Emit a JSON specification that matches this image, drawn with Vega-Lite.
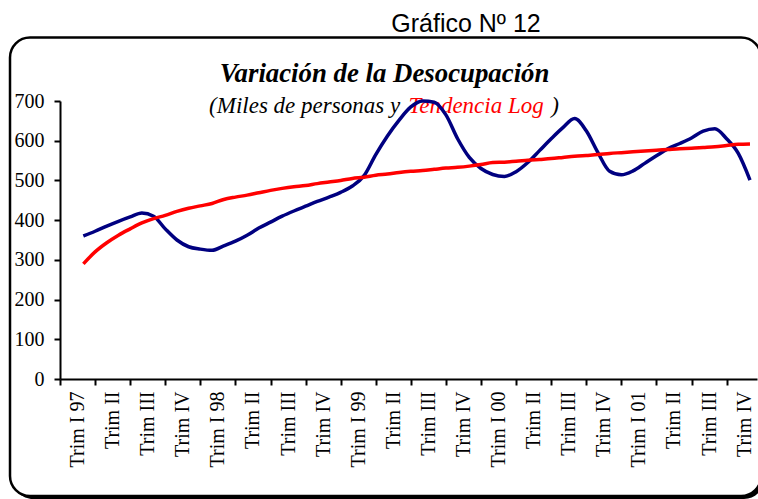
{
  "$schema": "https://vega.github.io/schema/vega-lite/v6.json",
  "width": 697,
  "height": 278,
  "autosize": {"type": "none"},
  "padding": {"left": 60, "top": 101, "right": 1, "bottom": 120},
  "background": "white",
  "title": {
    "text": "Gráfico Nº 12",
    "frame": "group",
    "anchor": "middle",
    "dx": 57.5,
    "offset": -21,
    "baseline": "alphabetic",
    "font": "Liberation Sans",
    "fontSize": 25,
    "fontWeight": "normal",
    "color": "black"
  },
  "config": {"view": {"stroke": null}, "axis": {"grid": false}},
  "data": {
    "values": [
      {"mes": 2, "desocupacion": 360, "tendencia": 290},
      {"mes": 3, "desocupacion": 372, "tendencia": 320},
      {"mes": 4, "desocupacion": 385, "tendencia": 343},
      {"mes": 5, "desocupacion": 397, "tendencia": 362},
      {"mes": 6, "desocupacion": 408, "tendencia": 378},
      {"mes": 7, "desocupacion": 418, "tendencia": 393},
      {"mes": 8, "desocupacion": 410, "tendencia": 404},
      {"mes": 9, "desocupacion": 378, "tendencia": 412},
      {"mes": 10, "desocupacion": 350, "tendencia": 422},
      {"mes": 11, "desocupacion": 333, "tendencia": 430},
      {"mes": 12, "desocupacion": 327, "tendencia": 436},
      {"mes": 13, "desocupacion": 324, "tendencia": 442},
      {"mes": 14, "desocupacion": 335, "tendencia": 452},
      {"mes": 15, "desocupacion": 347, "tendencia": 458},
      {"mes": 16, "desocupacion": 362, "tendencia": 463},
      {"mes": 17, "desocupacion": 380, "tendencia": 469},
      {"mes": 18, "desocupacion": 395, "tendencia": 475},
      {"mes": 19, "desocupacion": 410, "tendencia": 480},
      {"mes": 20, "desocupacion": 423, "tendencia": 484},
      {"mes": 21, "desocupacion": 435, "tendencia": 487},
      {"mes": 22, "desocupacion": 447, "tendencia": 492},
      {"mes": 23, "desocupacion": 458, "tendencia": 496},
      {"mes": 24, "desocupacion": 470, "tendencia": 500},
      {"mes": 25, "desocupacion": 486, "tendencia": 505},
      {"mes": 26, "desocupacion": 512, "tendencia": 508},
      {"mes": 27, "desocupacion": 565, "tendencia": 513},
      {"mes": 28, "desocupacion": 612, "tendencia": 516},
      {"mes": 29, "desocupacion": 652, "tendencia": 520},
      {"mes": 30, "desocupacion": 685, "tendencia": 523},
      {"mes": 31, "desocupacion": 700, "tendencia": 525},
      {"mes": 32, "desocupacion": 697, "tendencia": 528},
      {"mes": 33, "desocupacion": 665, "tendencia": 531},
      {"mes": 34, "desocupacion": 605, "tendencia": 533},
      {"mes": 35, "desocupacion": 558, "tendencia": 536},
      {"mes": 36, "desocupacion": 530, "tendencia": 540},
      {"mes": 37, "desocupacion": 515, "tendencia": 545},
      {"mes": 38, "desocupacion": 510, "tendencia": 546},
      {"mes": 39, "desocupacion": 522, "tendencia": 548},
      {"mes": 40, "desocupacion": 545, "tendencia": 551},
      {"mes": 41, "desocupacion": 575, "tendencia": 553},
      {"mes": 42, "desocupacion": 605, "tendencia": 555},
      {"mes": 43, "desocupacion": 633, "tendencia": 558},
      {"mes": 44, "desocupacion": 656, "tendencia": 561},
      {"mes": 45, "desocupacion": 625, "tendencia": 563},
      {"mes": 46, "desocupacion": 570, "tendencia": 565},
      {"mes": 47, "desocupacion": 523, "tendencia": 568},
      {"mes": 48, "desocupacion": 514, "tendencia": 570},
      {"mes": 49, "desocupacion": 524, "tendencia": 572},
      {"mes": 50, "desocupacion": 543, "tendencia": 574},
      {"mes": 51, "desocupacion": 562, "tendencia": 576},
      {"mes": 52, "desocupacion": 580, "tendencia": 578},
      {"mes": 53, "desocupacion": 593, "tendencia": 580},
      {"mes": 54, "desocupacion": 607, "tendencia": 581},
      {"mes": 55, "desocupacion": 624, "tendencia": 583},
      {"mes": 56, "desocupacion": 630, "tendencia": 585},
      {"mes": 57, "desocupacion": 605, "tendencia": 588},
      {"mes": 58, "desocupacion": 568, "tendencia": 591},
      {"mes": 59, "desocupacion": 501, "tendencia": 592}
    ]
  },
  "layer": [
    {
      "data": {"values": [{}]},
      "mark": {"type": "rect", "cornerRadius": 20, "fill": "black"},
      "encoding": {
        "x": {"datum": -4.02, "type": "quantitative", "axis": null, "scale": {"domain": [0, 59.6], "nice": false, "zero": false}},
        "x2": {"datum": 60.2},
        "y": {"datum": 852, "type": "quantitative", "scale": {"domain": [0, 700], "nice": false, "zero": false},
          "axis": {"values": [0, 100, 200, 300, 400, 500, 600, 700], "tickSize": 6, "tickWidth": 2, "tickColor": "black", "domainColor": "black", "domainWidth": 2, "labelFont": "Liberation Serif", "labelFontSize": 20, "labelColor": "black", "labelPadding": 10, "title": null, "grid": false, "zindex": 1}},
        "y2": {"datum": -302}
      }
    },
    {
      "data": {"values": [{}]},
      "mark": {"type": "rect", "cornerRadius": 20, "fill": "white", "stroke": "black", "strokeWidth": 2.5},
      "encoding": {
        "x": {"datum": -4.275, "type": "quantitative", "axis": null, "scale": {"domain": [0, 59.6], "nice": false, "zero": false}},
        "x2": {"datum": 59.95},
        "y": {"datum": 859.6, "type": "quantitative", "scale": {"domain": [0, 700], "nice": false, "zero": false},
          "axis": {"values": [0, 100, 200, 300, 400, 500, 600, 700], "tickSize": 6, "tickWidth": 2, "tickColor": "black", "domainColor": "black", "domainWidth": 2, "labelFont": "Liberation Serif", "labelFontSize": 20, "labelColor": "black", "labelPadding": 10, "title": null, "grid": false, "zindex": 1}},
        "y2": {"datum": -294.6}
      }
    },
    {
      "data": {"values": [{}]},
      "mark": {"type": "text", "text": "Variación de la Desocupación", "font": "Liberation Serif", "fontSize": 26.8, "fontStyle": "italic", "fontWeight": "bold", "align": "center", "baseline": "alphabetic", "color": "black"},
      "encoding": {
        "x": {"datum": 27.75, "type": "quantitative", "axis": null, "scale": {"domain": [0, 59.6], "nice": false, "zero": false}},
        "y": {"datum": 748.5, "type": "quantitative", "scale": {"domain": [0, 700], "nice": false, "zero": false},
          "axis": {"values": [0, 100, 200, 300, 400, 500, 600, 700], "tickSize": 6, "tickWidth": 2, "tickColor": "black", "domainColor": "black", "domainWidth": 2, "labelFont": "Liberation Serif", "labelFontSize": 20, "labelColor": "black", "labelPadding": 10, "title": null, "grid": false, "zindex": 1}}
      }
    },
    {
      "data": {"values": [{}]},
      "mark": {"type": "text", "text": "(Miles de personas y", "font": "Liberation Serif", "fontSize": 23, "fontStyle": "italic", "align": "left", "baseline": "alphabetic", "color": "black"},
      "encoding": {
        "x": {"datum": 12.75, "type": "quantitative", "axis": null, "scale": {"domain": [0, 59.6], "nice": false, "zero": false}},
        "y": {"datum": 669, "type": "quantitative", "scale": {"domain": [0, 700], "nice": false, "zero": false},
          "axis": {"values": [0, 100, 200, 300, 400, 500, 600, 700], "tickSize": 6, "tickWidth": 2, "tickColor": "black", "domainColor": "black", "domainWidth": 2, "labelFont": "Liberation Serif", "labelFontSize": 20, "labelColor": "black", "labelPadding": 10, "title": null, "grid": false, "zindex": 1}}
      }
    },
    {
      "data": {"values": [{}]},
      "mark": {"type": "text", "text": "Tendencia Log", "font": "Liberation Serif", "fontSize": 23, "fontStyle": "italic", "align": "left", "baseline": "alphabetic", "color": "#FF0000"},
      "encoding": {
        "x": {"datum": 29.8, "type": "quantitative", "axis": null, "scale": {"domain": [0, 59.6], "nice": false, "zero": false}},
        "y": {"datum": 669, "type": "quantitative", "scale": {"domain": [0, 700], "nice": false, "zero": false},
          "axis": {"values": [0, 100, 200, 300, 400, 500, 600, 700], "tickSize": 6, "tickWidth": 2, "tickColor": "black", "domainColor": "black", "domainWidth": 2, "labelFont": "Liberation Serif", "labelFontSize": 20, "labelColor": "black", "labelPadding": 10, "title": null, "grid": false, "zindex": 1}}
      }
    },
    {
      "data": {"values": [{}]},
      "mark": {"type": "text", "text": ")", "font": "Liberation Serif", "fontSize": 23, "fontStyle": "italic", "align": "left", "baseline": "alphabetic", "color": "black"},
      "encoding": {
        "x": {"datum": 42.0, "type": "quantitative", "axis": null, "scale": {"domain": [0, 59.6], "nice": false, "zero": false}},
        "y": {"datum": 669, "type": "quantitative", "scale": {"domain": [0, 700], "nice": false, "zero": false},
          "axis": {"values": [0, 100, 200, 300, 400, 500, 600, 700], "tickSize": 6, "tickWidth": 2, "tickColor": "black", "domainColor": "black", "domainWidth": 2, "labelFont": "Liberation Serif", "labelFontSize": 20, "labelColor": "black", "labelPadding": 10, "title": null, "grid": false, "zindex": 1}}
      }
    },
    {
      "mark": {"type": "line", "color": "#000080", "strokeWidth": 3.5, "interpolate": "monotone"},
      "encoding": {
        "x": {
          "field": "mes", "type": "quantitative",
          "scale": {"domain": [0, 59.6], "nice": false, "zero": false},
          "axis": {
            "orient": "bottom",
            "values": [0, 3, 6, 9, 12, 15, 18, 21, 24, 27, 30, 33, 36, 39, 42, 45, 48, 51, 54, 57],
            "labels": false, "ticks": true, "tickSize": 6, "tickWidth": 2, "tickColor": "black",
            "domain": true, "domainColor": "black", "domainWidth": 2,
            "grid": false, "title": null, "zindex": 1
          }
        },
        "y": {
          "field": "desocupacion", "type": "quantitative",
          "scale": {"domain": [0, 700], "nice": false, "zero": false},
          "axis": {"values": [0, 100, 200, 300, 400, 500, 600, 700], "tickSize": 6, "tickWidth": 2, "tickColor": "black", "domainColor": "black", "domainWidth": 2, "labelFont": "Liberation Serif", "labelFontSize": 20, "labelColor": "black", "labelPadding": 10, "title": null, "grid": false, "zindex": 1}
        }
      }
    },
    {
      "mark": {"type": "line", "color": "#FF0000", "strokeWidth": 3.5, "interpolate": "monotone"},
      "encoding": {
        "x": {
          "field": "mes", "type": "quantitative",
          "scale": {"domain": [0, 59.6], "nice": false, "zero": false},
          "axis": {
            "orient": "bottom",
            "values": [1.5, 4.5, 7.5, 10.5, 13.5, 16.5, 19.5, 22.5, 25.5, 28.5, 31.5, 34.5, 37.5, 40.5, 43.5, 46.5, 49.5, 52.5, 55.5, 58.5],
            "labelExpr": "['Trim I 97','Trim II','Trim III','Trim IV','Trim I 98','Trim II','Trim III','Trim IV','Trim I 99','Trim II','Trim III','Trim IV','Trim I 00','Trim II','Trim III','Trim IV','Trim I 01','Trim II','Trim III','Trim IV'][floor(datum.value / 3)]",
            "ticks": false, "tickSize": 0, "domain": false,
            "labelAngle": -90, "labelAlign": "right", "labelBaseline": "middle", "labelPadding": 12,
            "labelFont": "Liberation Serif", "labelFontSize": 20, "labelColor": "black",
            "labelOverlap": false, "labelFlush": false, "labelBound": false,
            "grid": false, "title": null, "zindex": 1
          }
        },
        "y": {
          "field": "tendencia", "type": "quantitative",
          "scale": {"domain": [0, 700], "nice": false, "zero": false},
          "axis": {"values": [0, 100, 200, 300, 400, 500, 600, 700], "tickSize": 6, "tickWidth": 2, "tickColor": "black", "domainColor": "black", "domainWidth": 2, "labelFont": "Liberation Serif", "labelFontSize": 20, "labelColor": "black", "labelPadding": 10, "title": null, "grid": false, "zindex": 1}
        }
      }
    }
  ],
  "resolve": {"axis": {"x": "independent"}}
}
